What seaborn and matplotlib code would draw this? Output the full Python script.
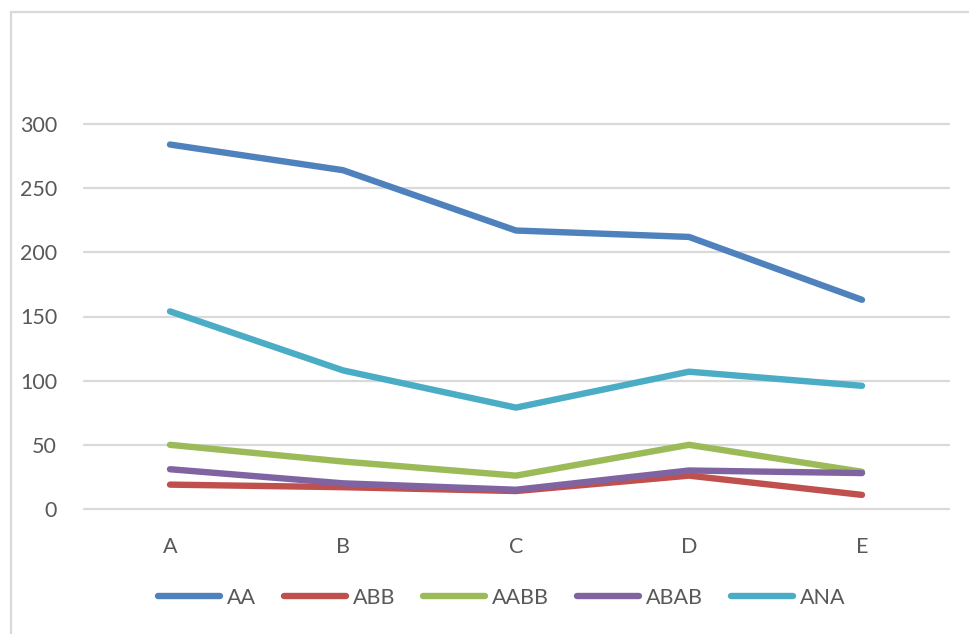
import matplotlib
matplotlib.use("Agg")
import matplotlib.pyplot as plt
import matplotlib.patches as mpatches
import seaborn as sns
import pandas as pd

# Categories and series values
categories = ["A", "B", "C", "D", "E"]
series_names = ["AA", "ABB", "AABB", "ABAB", "ANA"]
aa = [284, 264, 217, 212, 163]
abb = [19, 17, 14, 26, 11]
aabb = [50, 37, 26, 50, 29]
abab = [31, 20, 15, 30, 28]
ana = [154, 108, 79, 107, 96]
y_ticks = [0, 50, 100, 150, 200, 250, 300]

colors = ["#4F81BD", "#C0504D", "#9BBB59", "#8064A2", "#4BACC6"]

rows = []
for name, vals in zip(series_names, [aa, abb, aabb, abab, ana]):
    for i, (cat, v) in enumerate(zip(categories, vals)):
        rows.append({"pos": i, "category": cat, "series": name, "value": v})
df = pd.DataFrame(rows)

sns.set_theme(style="white")
plt.rcParams["font.family"] = ["Lato", "DejaVu Sans"]

fig = plt.figure(figsize=(9.69, 6.34), dpi=100)
W, H = 969, 634

# Light grey chart-area border
border = mpatches.Rectangle((10.5 / W, -0.1), 1.2, 1.1 - 11.5 / H,
                            transform=fig.transFigure, fill=False,
                            edgecolor="#D9D9D9", linewidth=1.6)
fig.patches.append(border)

left, right = 83.5, 948.5
bottom, top = 509, 124
ax = fig.add_axes([left / W, (H - bottom) / H, (right - left) / W, (bottom - top) / H])

sns.lineplot(data=df, x="pos", y="value", hue="series", hue_order=series_names,
             palette=colors, linewidth=4.6, ax=ax, legend=False,
             solid_capstyle="round", solid_joinstyle="round")
for line in ax.lines:
    line.set_clip_on(False)

ax.set_xlim(-0.5, 4.5)
ax.set_ylim(0, 300)
ax.set_yticks(y_ticks)
ax.set_xticks(range(len(categories)))
ax.set_xticklabels(categories)
ax.grid(axis="y", color="#D9D9D9", linewidth=1.6)
ax.set_axisbelow(True)
for sp in ax.spines.values():
    sp.set_visible(False)
ax.set_xlabel("")
ax.set_ylabel("")
ax.tick_params(axis="y", length=0, pad=19, labelsize=15.5, labelcolor="#595959")
ax.tick_params(axis="x", length=0, pad=20, labelsize=15.5, labelcolor="#595959")
for gl in ax.get_ygridlines():
    gl.set_clip_on(False)

handles = [plt.Line2D([], [], color=c, linewidth=4.6, solid_capstyle="round") for c in colors]
leg = fig.legend(handles, series_names, loc="center", ncol=5,
                 bbox_to_anchor=(501.5 / W, (H - 598) / H), frameon=False,
                 fontsize=15.5, handlelength=2.9, handletextpad=0.3,
                 columnspacing=1.3, labelcolor="#595959")

fig.savefig("out.png", dpi=100, facecolor="white")
